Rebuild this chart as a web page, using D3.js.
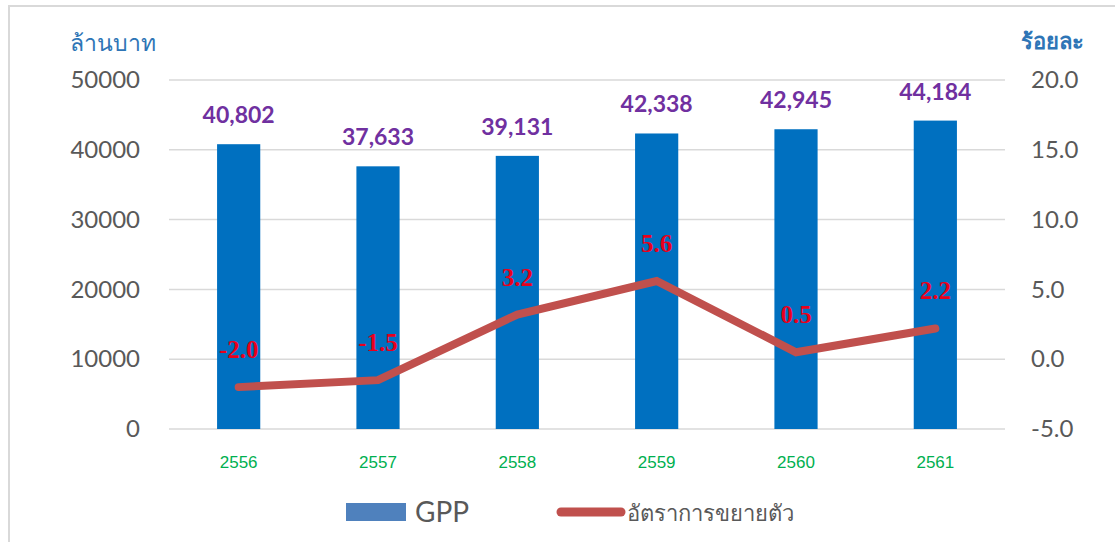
<!DOCTYPE html>
<html><head><meta charset="utf-8">
<script src="https://cdn.jsdelivr.net/npm/d3@7"></script>
<style>
html,body{margin:0;padding:0;background:#fff;}
svg text{font-family:"Lato","Open Sans","Noto Sans",sans-serif;}
</style></head>
<body>
<svg id="c" width="1115" height="542"></svg>
<script>
const years = ["2556","2557","2558","2559","2560","2561"];
const gpp = [40802, 37633, 39131, 42338, 42945, 44184];
const growth = [-2.0, -1.5, 3.2, 5.6, 0.5, 2.2];
const leftTicks = [0, 10000, 20000, 30000, 40000, 50000];
const rightTicks = [-5, 0, 5, 10, 15, 20];

const svg = d3.select("#c");
const L = 169, R = 1005, T = 80, B = 429;

// chart border
svg.append("rect").attr("x", 9).attr("y", 6).attr("width", 1120).attr("height", 560)
  .attr("fill", "none").attr("stroke", "#d9d9d9").attr("stroke-width", 2);

const x = d3.scaleBand().domain(years).range([L, R]).paddingInner(0.69).paddingOuter(0.345);
const yL = d3.scaleLinear().domain([0, 50000]).range([B, T]);
const yR = d3.scaleLinear().domain([-5, 20]).range([B, T]);

// gridlines
svg.append("g").selectAll("line").data(leftTicks).join("line")
  .attr("x1", L).attr("x2", R).attr("y1", d => yL(d)).attr("y2", d => yL(d))
  .attr("stroke", "#d9d9d9").attr("stroke-width", 1.5);

// left axis labels
const axL = svg.append("g").attr("transform", `translate(${L},0)`)
  .call(d3.axisLeft(yL).tickValues(leftTicks).tickSize(0).tickPadding(29).tickFormat(d3.format("d")));
axL.select(".domain").remove();
axL.selectAll("text").attr("font-size", 24).attr("fill", "#595959");

// right axis labels
const axR = svg.append("g").attr("transform", `translate(${R},0)`)
  .call(d3.axisRight(yR).tickValues(rightTicks).tickSize(0).tickPadding(26).tickFormat(d3.format(".1f")));
axR.select(".domain").remove();
axR.selectAll("text").attr("font-size", 24).attr("fill", "#595959")
  .text(d => d3.format(".1f")(d).replace("−", "-"));

// x axis labels
const axX = svg.append("g").attr("transform", `translate(0,${B})`)
  .call(d3.axisBottom(x).tickSize(0).tickPadding(27));
axX.select(".domain").remove();
axX.selectAll("text").attr("font-size", 17).attr("fill", "#00B050")
  .style("font-family", "'Liberation Sans Narrow', 'Liberation Sans', Arial, sans-serif");

// axis titles
svg.append("text").attr("x", 70).attr("y", 51).attr("font-size", 23).attr("fill", "#2E75B6")
  .text("ล้านบาท");
svg.append("text").attr("x", 1021).attr("y", 49).attr("font-size", 22).attr("font-weight", "bold").attr("fill", "#2E75B6")
  .text("ร้อยละ");

// bars
svg.append("g").selectAll("rect").data(gpp).join("rect")
  .attr("x", (d, i) => x(years[i])).attr("width", x.bandwidth())
  .attr("y", d => yL(d)).attr("height", d => yL(0) - yL(d))
  .attr("fill", "#0070C0");

// bar labels
svg.append("g").selectAll("text").data(gpp).join("text")
  .attr("x", (d, i) => x(years[i]) + x.bandwidth() / 2)
  .attr("y", d => yL(d) - 21)
  .attr("text-anchor", "middle").attr("font-size", 23).attr("font-weight", "bold").attr("fill", "#7030A0")
  .text(d => d3.format(",")(d));

// line
const cx = i => x(years[i]) + x.bandwidth() / 2;
svg.append("path").datum(growth)
  .attr("d", d3.line().x((d, i) => cx(i)).y(d => yR(d)))
  .attr("fill", "none").attr("stroke", "#C0504D").attr("stroke-width", 8)
  .attr("stroke-linecap", "round").attr("stroke-linejoin", "miter");

// line labels
svg.append("g").selectAll("text").data(growth).join("text")
  .attr("x", (d, i) => cx(i)).attr("y", d => yR(d) - 29)
  .attr("text-anchor", "middle").attr("font-size", 25).attr("font-weight", "bold").attr("fill", "#E8001C")
  .style("font-family", "'Liberation Serif', 'DejaVu Serif', serif")
  .text(d => d3.format(".1f")(d).replace("−", "-"));

// legend
svg.append("rect").attr("x", 346).attr("y", 503).attr("width", 60).attr("height", 18).attr("fill", "#4F81BD");
svg.append("text").attr("x", 415).attr("y", 522).attr("font-size", 28).attr("fill", "#595959").text("GPP");
svg.append("line").attr("x1", 561).attr("x2", 621).attr("y1", 512).attr("y2", 512)
  .attr("stroke", "#C0504D").attr("stroke-width", 9).attr("stroke-linecap", "round");
svg.append("text").attr("x", 627).attr("y", 521).attr("font-size", 22).attr("fill", "#595959").text("อัตราการขยายตัว");
</script>
</body></html>
